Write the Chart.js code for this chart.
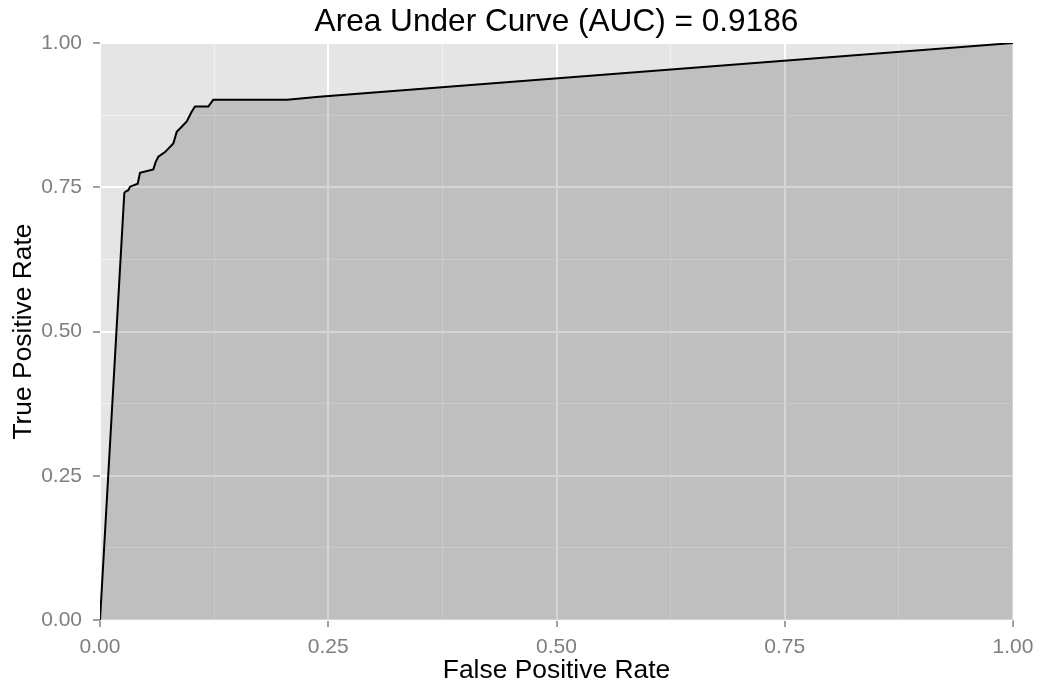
<!DOCTYPE html>
<html>
<head>
<meta charset="utf-8">
<script src="https://cdn.jsdelivr.net/npm/chart.js@4/dist/chart.umd.min.js"></script>
<style>
  html, body { margin: 0; padding: 0; background: #ffffff; }
  canvas { display: block; }
</style>
</head>
<body>
<canvas id="rocChart" width="1040" height="684"></canvas>
<script>
// ROC curve points
const fprValues = [0, 0.0266, 0.0274, 0.031, 0.0329, 0.0413, 0.0438, 0.0584, 0.061, 0.0639, 0.0712,
  0.0803, 0.084, 0.0895, 0.095, 0.1004, 0.104, 0.1186, 0.124, 0.205, 0.24, 1];
const tprValues = [0, 0.7395, 0.742, 0.745, 0.751, 0.756, 0.775, 0.781, 0.794, 0.803, 0.811,
  0.826, 0.846, 0.855, 0.864, 0.881, 0.890, 0.890, 0.9015, 0.9015, 0.907, 1];
const majorTicks = [0, 0.25, 0.5, 0.75, 1];
const aucValue = "0.9186";

const points = fprValues.map((x, i) => ({ x: x, y: tprValues[i] }));

function isMajor(value) {
    return majorTicks.some(t => Math.abs(t - value) < 1e-9);
}

const panelBackground = {
    id: 'panelBackground',
    beforeDraw(chart) {
        const { ctx, chartArea } = chart;
        ctx.save();
        ctx.fillStyle = '#e5e5e5';
        ctx.fillRect(chartArea.left, chartArea.top, chartArea.right - chartArea.left, chartArea.bottom - chartArea.top);
        ctx.restore();
    }
};

const fontFamily = 'Liberation Sans, Arial, sans-serif';

function axisOptions(titleText, isX) {
    return {
        type: 'linear',
        min: 0,
        max: 1,
        border: { display: false },
        grid: {
            color: ctx => isMajor(ctx.tick.value) ? '#ffffff' : '#f2f2f2',
            lineWidth: ctx => isMajor(ctx.tick.value) ? 2 : 1,
            tickColor: ctx => isMajor(ctx.tick.value) ? '#7f7f7f' : 'rgba(0,0,0,0)',
            tickLength: 7,
            tickWidth: 1.5,
            drawTicks: true
        },
        ticks: {
            stepSize: 0.125,
            autoSkip: false,
            maxRotation: 0,
            padding: isX ? 8 : 11,
            color: '#7f7f7f',
            font: { family: fontFamily, size: 21 },
            callback: value => isMajor(value) ? value.toFixed(2) : ''
        },
        title: {
            display: true,
            text: titleText,
            color: '#000000',
            font: { family: fontFamily, size: 26.4, lineHeight: 1 },
            padding: isX ? { top: 0, bottom: 0 } : { top: 11, bottom: 0 }
        },
        afterFit: scale => {
            // keep the panel where the reference has it
            scale.paddingLeft = 0;
            scale.paddingRight = 0;
            scale.paddingTop = 0;
            scale.paddingBottom = 0;
            if (isX) scale.height = 64;
            else scale.width = 100;
        }
    };
}

new Chart(document.getElementById('rocChart'), {
    type: 'line',
    data: {
        datasets: [{
            data: points,
            borderColor: '#000000',
            borderWidth: 2,
            backgroundColor: 'rgba(0,0,0,0.165)',
            fill: 'origin',
            pointRadius: 0,
            tension: 0
        }]
    },
    options: {
        responsive: false,
        animation: false,
        devicePixelRatio: 1,
        layout: { padding: { top: 0, right: 27, bottom: 0, left: 0 } },
        plugins: {
            legend: { display: false },
            tooltip: { enabled: false },
            title: {
                display: true,
                text: 'Area Under Curve (AUC) = ' + aucValue,
                color: '#000000',
                fullSize: false,
                font: { family: fontFamily, size: 31.6, weight: 'normal', lineHeight: 1.2 },
                padding: { top: 3.3, bottom: 1.8 }
            }
        },
        scales: {
            x: axisOptions('False Positive Rate', true),
            y: axisOptions('True Positive Rate', false)
        }
    },
    plugins: [panelBackground]
});
</script>
</body>
</html>
